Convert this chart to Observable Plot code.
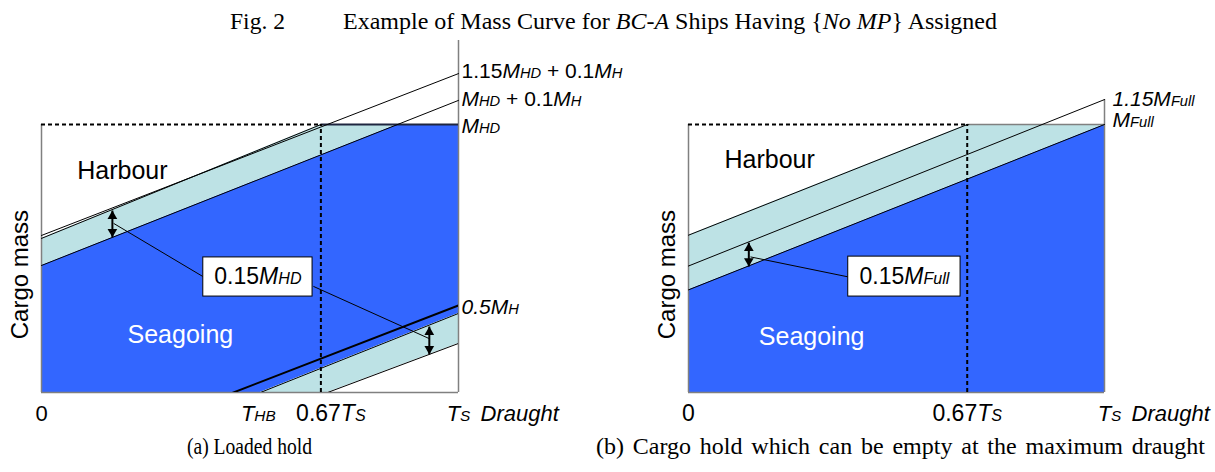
<!DOCTYPE html>
<html><head><meta charset="utf-8">
<script src="https://cdn.jsdelivr.net/npm/d3@7"></script>
<script src="https://cdn.jsdelivr.net/npm/@observablehq/plot@0.6"></script>
<style>
body{margin:0;background:#fff;}
#wrap{position:relative;width:1215px;height:472px;overflow:hidden;font-family:"Liberation Sans",Arial,sans-serif;}
.title{position:absolute;top:9px;font-family:"Liberation Serif","Times New Roman",serif;font-size:23px;white-space:nowrap;line-height:26px;}
.cap{position:absolute;top:434px;font-family:"Liberation Serif","Times New Roman",serif;font-size:23px;white-space:nowrap;line-height:26px;}
#pa,#pb{position:absolute;top:30px;}
#pa{left:0}#pb{left:607px}
svg{overflow:visible}
</style></head>
<body><div id="wrap">
<div class="title" style="left:230px" data-w="55">Fig. 2</div>
<div class="title" style="left:343px" data-w="654">Example of Mass Curve for <i>BC-A</i> Ships Having {<i>No MP</i>} Assigned</div>
<div id="pa"></div><div id="pb"></div>
<div class="cap" style="left:187px" data-w="125">(a) Loaded hold</div>
<div class="cap" style="left:596px" data-w="609" data-spread="1">(b) Cargo hold which can be empty at the maximum draught</div>
</div>
<script>
// ---------- shared ----------
const xEnds = [0, 1];          // draught 0 and Ts
const kneeX = 0.67;            // 0.67 Ts
const seaBlue = "#3366ff";
const bandBlue = "#bde2e5";
const frameGray = "#808080";

// ---------- Panel (a): Loaded hold ----------
// cargo mass (fraction of MHD) of each boundary line at draught 0 and at Ts
const aOuter  = [0.586, 1.190];   // 1.15 MHD + 0.1 MH
const aInner  = [0.575, 1.209];   // harbour band top (meets MHD at 0.67 Ts)
const aSea    = [0.474, 1.090];   // MHD + 0.1 MH
const aHalf   = [-0.277, 0.325];  // 0.5 MH
const aLowTop = [-0.326, 0.295];
const aLowBot = [-0.400, 0.183];
const aFrameTop = 1.313;
const aRightLabels = ["1.15*M*_HD_ + 0.1*M*_H_", "*M*_HD_ + 0.1*M*_H_", "*M*_HD_", "*0.5M*_H_"];
const aRightLabelY = [1.200, 1.095, 0.995, 0.318];
const aTickX = [0, 0.52, 1];
const aTickLabels = ["0", "*T*_HB_", "*T*_S_"];
const aKneeLabel = "0.67*T*_S_";
const aArrowX = [0.170, 0.930];
const aArrowTop = [0.679, 0.246];
const aArrowBot = [0.579, 0.142];
const aLeadX1 = [0.173, 0.652], aLeadY1 = [0.631, 0.396];
const aLeadX2 = [0.391, 0.930], aLeadY2 = [0.429, 0.201];
const aBoxX = [0.388, 0.650], aBoxY = [0.358, 0.504];
const aBoxLabel = "0.15*M*_HD_";
const aHarbour = [0.194, 0.825], aSeagoing = [0.333, 0.213];
const aAxisLabelPos = [-0.052, 0.44];

// ---------- Panel (b): Hold which can be empty ----------
const bUpper = [0.587, 1.203];    // band top (meets MFull at 0.67 Ts)
const bMid   = [0.472, 1.093];    // 1.15 MFull
const bLow   = [0.383, 1.000];    // MFull
const bRightLabels = ["*1.15M*_Full_", "*M*_Full_"];
const bRightLabelY = [1.095, 1.014];
const bTickX = [0, 0.67];
const bTickLabels = ["0", "0.67*T*_S_"];
const bArrowX = [0.145];
const bArrowTop = [0.559];
const bArrowBot = [0.470];
const bLeadX1 = [0.149], bLeadY1 = [0.506];
const bLeadX2 = [0.385], bLeadY2 = [0.431];
const bBoxX = [0.384, 0.654], bBoxY = [0.358, 0.507];
const bBoxLabel = "0.15*M*_Full_";
const bHarbour = [0.195, 0.866], bSeagoing = [0.296, 0.208];
const bAxisLabelPos = [-0.051, 0.44];

const axisLabel = "Cargo mass";
const draughtLabel = "Draught";
const harbourLabel = "Harbour";
const seagoingLabel = "Seagoing";

// ---------- helpers ----------
function rich(svg) {
  svg.querySelectorAll("text").forEach(t => {
    const s = t.textContent;
    if (!/[*_]/.test(s)) return;
    const parts = s.split(/(\*[^*]+\*|_[^_]+_)/).filter(p => p);
    while (t.firstChild) t.removeChild(t.firstChild);
    for (const p of parts) {
      const ts = document.createElementNS("http://www.w3.org/2000/svg", "tspan");
      if (p[0] === "*") { ts.textContent = p.slice(1, -1); ts.setAttribute("font-style", "italic"); }
      else if (p[0] === "_") { ts.textContent = p.slice(1, -1); ts.setAttribute("font-style", "italic"); ts.setAttribute("font-size", "0.7em"); }
      else ts.textContent = p;
      t.appendChild(ts);
    }
  });
  return svg;
}
const zipRows = (obj) => xEnds.map((x, i) => {
  const r = {x};
  for (const k in obj) r[k] = obj[k][i];
  return r;
});
const arrowsOf = (X, T, B) => X.map((x, i) => ({x, top: T[i], bot: B[i]}));
const leadsOf = (X1, Y1, X2, Y2) => X1.map((x, i) => ({x1: x, y1: Y1[i], x2: X2[i], y2: Y2[i]}));
const labelsOf = (L, Y) => L.map((label, i) => ({label, y: Y[i]}));
const ticksOf = (X, L) => X.map((x, i) => ({x, label: L[i]}));

function arrowMarks(arrows) {
  return [
    Plot.link(arrows, {x1: "x", x2: "x", y1: "top", y2: "bot", stroke: "black", strokeWidth: 2}),
    Plot.dot(arrows, {x: "x", y: "top", symbol: "triangle", r: 3.6, fill: "black", stroke: "none", dy: 5.6}),
    Plot.dot(arrows, {x: "x", y: "bot", symbol: "triangle", r: 3.6, fill: "black", stroke: "none", rotate: 180, dy: -5.6})
  ];
}

const common = {
  height: 400, marginTop: 94, marginBottom: 38,
  x: {domain: [0, 1], axis: null},
  y: {domain: [0, 1], axis: null},
  style: {fontFamily: "'Liberation Sans', Arial, sans-serif", background: "transparent", overflow: "visible", color: "black"}
};

// ---------- Panel (a) plot ----------
const aRows = zipRows({outer: aOuter, inner: aInner, sea: aSea, half: aHalf, lowTop: aLowTop, lowBot: aLowBot});
const plotA = Plot.plot({
  ...common, width: 607, marginLeft: 41, marginRight: 149,
  marks: [
    Plot.areaY(aRows, {x: "x", y1: "lowTop", y2: "sea", fill: seaBlue, clip: true}),
    Plot.areaY(aRows, {x: "x", y1: "sea", y2: "inner", fill: bandBlue, clip: true}),
    Plot.areaY(aRows, {x: "x", y1: "lowBot", y2: "lowTop", fill: bandBlue, clip: true}),
    Plot.ruleX([0], {y1: 0, y2: 1, stroke: frameGray, strokeWidth: 1.5}),
    Plot.ruleY([0], {x1: 0, x2: 1, stroke: frameGray, strokeWidth: 1.5}),
    Plot.ruleX([1], {y1: 0, y2: aFrameTop, stroke: frameGray, strokeWidth: 1.5}),
    Plot.ruleY([1], {x1: kneeX, x2: 1, stroke: "#1f2640", strokeWidth: 2}),
    Plot.ruleY([1], {x1: 0, x2: kneeX, stroke: "black", strokeWidth: 2, strokeDasharray: "4,3"}),
    Plot.ruleX([kneeX], {y1: 0, y2: 1, stroke: "black", strokeWidth: 2, strokeDasharray: "4,3"}),
    Plot.line(aRows, {x: "x", y: "outer", stroke: "black", strokeWidth: 1}),
    Plot.line(aRows, {x: "x", y: "inner", stroke: "black", strokeWidth: 1, clip: true}),
    Plot.line(aRows, {x: "x", y: "sea", stroke: "black", strokeWidth: 1}),
    Plot.line(aRows, {x: "x", y: "half", stroke: "black", strokeWidth: 2, clip: true}),
    Plot.line(aRows, {x: "x", y: "lowTop", stroke: "black", strokeWidth: 1, clip: true}),
    Plot.line(aRows, {x: "x", y: "lowBot", stroke: "black", strokeWidth: 1, clip: true}),
    Plot.link(leadsOf(aLeadX1, aLeadY1, aLeadX2, aLeadY2), {x1: "x1", y1: "y1", x2: "x2", y2: "y2", stroke: "black", strokeWidth: 1}),
    Plot.rect([{x1: aBoxX[0], x2: aBoxX[1], y1: aBoxY[0], y2: aBoxY[1]}], {x1: "x1", x2: "x2", y1: "y1", y2: "y2", fill: "white", stroke: "black", strokeWidth: 1}),
    ...arrowMarks(arrowsOf(aArrowX, aArrowTop, aArrowBot)),
    Plot.text([aBoxLabel], {x: (aBoxX[0] + aBoxX[1]) / 2, y: (aBoxY[0] + aBoxY[1]) / 2, text: d => d, fontSize: 23}),
    Plot.text([harbourLabel], {x: aHarbour[0], y: aHarbour[1], text: d => d, fontSize: 25}),
    Plot.text([seagoingLabel], {x: aSeagoing[0], y: aSeagoing[1], text: d => d, fontSize: 25, fill: "white"}),
    Plot.text([axisLabel], {x: aAxisLabelPos[0], y: aAxisLabelPos[1], text: d => d, rotate: -90, fontSize: 24}),
    Plot.text(labelsOf(aRightLabels, aRightLabelY), {x: 1, y: "y", text: "label", textAnchor: "start", dx: 3, fontSize: 21}),
    Plot.text(ticksOf(aTickX, aTickLabels), {x: "x", y: 0, text: "label", dy: 21, fontSize: 22}),
    Plot.text([aKneeLabel], {x: kneeX, y: 0, text: d => d, dy: 21, dx: 10, fontSize: 23}),
    Plot.text([draughtLabel], {x: 1, y: 0, text: d => d, dy: 21, dx: 22, textAnchor: "start", fontSize: 22, fontStyle: "italic"})
  ]
});
document.getElementById("pa").appendChild(rich(plotA));

// ---------- Panel (b) plot ----------
const bRows = zipRows({upper: bUpper, mid: bMid, low: bLow});
const plotB = Plot.plot({
  ...common, width: 608, marginLeft: 81, marginRight: 111,
  marks: [
    Plot.areaY(bRows, {x: "x", y1: 0, y2: "low", fill: seaBlue, clip: true}),
    Plot.areaY(bRows, {x: "x", y1: "low", y2: "upper", fill: bandBlue, clip: true}),
    Plot.ruleX([0], {y1: 0, y2: 1, stroke: frameGray, strokeWidth: 1.5}),
    Plot.ruleY([0], {x1: 0, x2: 1, stroke: frameGray, strokeWidth: 1.5}),
    Plot.ruleX([1], {y1: 0, y2: bMid[1], stroke: frameGray, strokeWidth: 1.5}),
    Plot.ruleY([1], {x1: kneeX, x2: 1, stroke: frameGray, strokeWidth: 1.5}),
    Plot.ruleY([1], {x1: 0, x2: kneeX, stroke: "black", strokeWidth: 2, strokeDasharray: "4,3"}),
    Plot.ruleX([kneeX], {y1: 0, y2: 1, stroke: "black", strokeWidth: 2, strokeDasharray: "4,3"}),
    Plot.line(bRows, {x: "x", y: "upper", stroke: "black", strokeWidth: 1, clip: true}),
    Plot.line(bRows, {x: "x", y: "mid", stroke: "black", strokeWidth: 1}),
    Plot.line(bRows, {x: "x", y: "low", stroke: "black", strokeWidth: 1}),
    Plot.link(leadsOf(bLeadX1, bLeadY1, bLeadX2, bLeadY2), {x1: "x1", y1: "y1", x2: "x2", y2: "y2", stroke: "black", strokeWidth: 1}),
    Plot.rect([{x1: bBoxX[0], x2: bBoxX[1], y1: bBoxY[0], y2: bBoxY[1]}], {x1: "x1", x2: "x2", y1: "y1", y2: "y2", fill: "white", stroke: "black", strokeWidth: 1}),
    ...arrowMarks(arrowsOf(bArrowX, bArrowTop, bArrowBot)),
    Plot.text([bBoxLabel], {x: (bBoxX[0] + bBoxX[1]) / 2, y: (bBoxY[0] + bBoxY[1]) / 2, text: d => d, fontSize: 23}),
    Plot.text([harbourLabel], {x: bHarbour[0], y: bHarbour[1], text: d => d, fontSize: 25}),
    Plot.text([seagoingLabel], {x: bSeagoing[0], y: bSeagoing[1], text: d => d, fontSize: 25, fill: "white"}),
    Plot.text([axisLabel], {x: bAxisLabelPos[0], y: bAxisLabelPos[1], text: d => d, rotate: -90, fontSize: 24}),
    Plot.text(labelsOf(bRightLabels, bRightLabelY), {x: 1, y: "y", text: "label", textAnchor: "start", dx: 8, fontSize: 21}),
    Plot.text(ticksOf(bTickX, bTickLabels), {x: "x", y: 0, text: "label", dy: 21, fontSize: 23}),
    Plot.text(["*T*_S_"], {x: 1, y: 0, text: d => d, dy: 21, dx: 5, fontSize: 22}),
    Plot.text([draughtLabel], {x: 1, y: 0, text: d => d, dy: 21, dx: 27, textAnchor: "start", fontSize: 22, fontStyle: "italic"})
  ]
});
document.getElementById("pb").appendChild(rich(plotB));

// fit the serif title and captions to the widths they occupy in the figure:
// condensed glyphs (same horizontal scale as the title), the long caption spread by word spacing
const condense = (() => {
  const el = document.querySelectorAll(".title")[1];
  return +el.dataset.w / el.getBoundingClientRect().width;
})();
document.querySelectorAll("[data-w]").forEach(el => {
  const target = +el.dataset.w;
  let s;
  if (el.dataset.spread) {
    s = condense;
    const w = el.getBoundingClientRect().width;
    const nSpaces = (el.textContent.match(/ /g) || []).length;
    el.style.wordSpacing = ((target / s - w) / nSpaces).toFixed(2) + "px";
    s = target / el.getBoundingClientRect().width;
  } else {
    s = target / el.getBoundingClientRect().width;
  }
  el.style.transformOrigin = "0 50%";
  el.style.transform = `scaleX(${s.toFixed(4)})`;
});
</script>
</body></html>
